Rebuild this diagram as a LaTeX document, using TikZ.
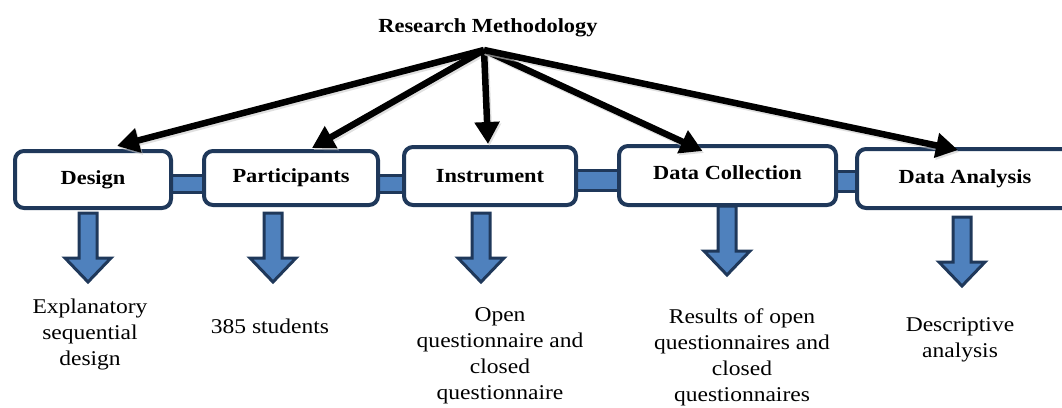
\documentclass[tikz,border=0pt]{standalone}
\usepackage{fontspec}
\setmainfont{Liberation Serif}[FakeStretch=1.12]
\usetikzlibrary{arrows.meta,calc}
\definecolor{navy}{RGB}{31,56,90}
\definecolor{fillblue}{RGB}{79,129,189}
\tikzset{
  stepbox/.style={draw=navy, line width=4pt, fill=white, rounded corners=9pt,
    font=\fontsize{20}{22}\selectfont\bfseries, inner sep=0pt},
  linkbar/.style={draw=navy, line width=3pt, fill=fillblue},
  bigarrow/.style={line width=6.5pt, -{Triangle[length=22pt,width=24pt]}, shorten >=0pt},
  downarrow/.style={draw=navy, line width=3pt, fill=fillblue, line join=miter},
  caption/.style={align=center, font=\fontsize{21}{26}\selectfont, inner sep=0pt},
  bigdown/.pic={\draw[downarrow] (-9,0) -- (-9,45) -- (-23,45) -- (0,69) -- (23,45) -- (9,45) -- (9,0) -- cycle;}
}
\begin{document}
\begin{tikzpicture}[x=1pt,y=-1pt]
\useasboundingbox (0,0) rectangle (1062,407);
% link bars (behind boxes)
\node[linkbar, minimum width=40pt, minimum height=17pt, inner sep=0pt] (l1) at (187,184) {};
\node[linkbar, minimum width=40pt, minimum height=17pt, inner sep=0pt] (l2) at (391,184) {};
\node[linkbar, minimum width=50pt, minimum height=20pt, inner sep=0pt] (l3) at (597,180) {};
\node[linkbar, minimum width=30pt, minimum height=20pt, inner sep=0pt] (l4) at (847,181) {};
% boxes
\node[stepbox, minimum width=156pt, minimum height=57pt] (design) at (93,179.5) {Design};
\node[stepbox, minimum width=174pt, minimum height=54pt] (part) at (291,178) {Participants};
\node[stepbox, minimum width=172pt, minimum height=58pt] (inst) at (490,176) {Instrument};
\node[stepbox, minimum width=217pt, minimum height=59pt, text depth=6pt] (dc) at (727.5,175.5) {Data Collection};
\node[stepbox, minimum width=216pt, minimum height=59pt] (da) at (965,178.5) {Data Analysis};
% title
\node[font=\fontsize{20}{22}\selectfont\bfseries, inner sep=0pt] (title) at (488,28) {Research Methodology};
\coordinate (src) at (484,50);
% black arrows
\foreach \t/\dx/\dy in {design/24/-3, part/21/-1, inst/-2/-1, dc/-25/7, da/-7/3}{
  \draw[bigarrow, gray!40, opacity=0.6] ($(src)+(1.5,2)$) -- ($([shift={(\dx,\dy)}]\t.north)+(1.5,2)$);
  \draw[bigarrow] (src) -- ([shift={(\dx,\dy)}]\t.north);
}
% down arrows
\pic at (88,213) {bigdown};
\pic at (273,213) {bigdown};
\pic at (481,213) {bigdown};
\pic at (727,206) {bigdown};
\pic at (962,217) {bigdown};
% captions
\node[caption] (c1) at (90,334) {Explanatory\\sequential\\design};
\node[caption] (c2) at (270,326) {385 students};
\node[caption] (c3) at (500,355.5) {Open\\questionnaire and\\closed\\questionnaire};
\node[caption] (c4) at (742,357) {Results of open\\questionnaires and\\closed\\questionnaires};
\node[caption] (c5) at (960,340) {Descriptive\\analysis};
\end{tikzpicture}
\end{document}
